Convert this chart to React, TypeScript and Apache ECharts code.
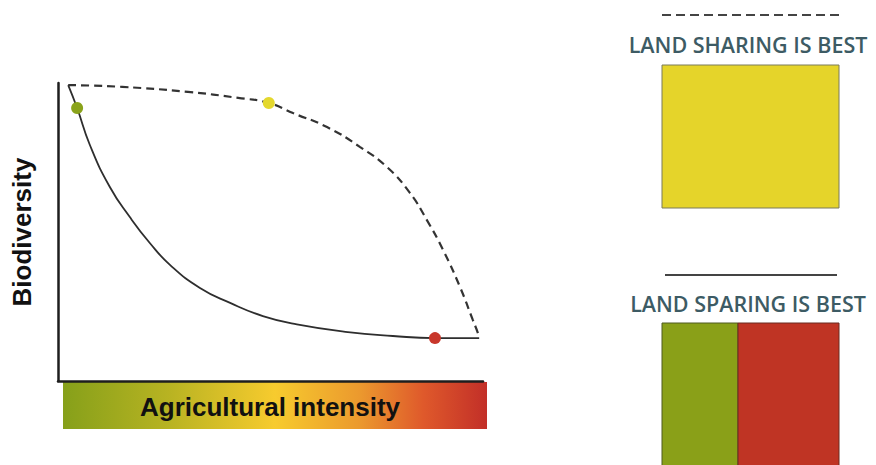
import React, { useEffect, useRef } from "react";
import * as echarts from "echarts";

// Curves (x: agricultural intensity 0-100, y: biodiversity 0-100)
const sharingX = [2.4, 15.1, 30.6, 42.4, 49.6, 55.3, 63.3, 71.1, 77.4, 82.8, 86.8, 90.6, 94.6, 97.6, 98.8, 99.1];
const sharingY = [99.3, 98.7, 97.0, 95.0, 93.3, 89.9, 85.2, 78.5, 71.8, 63.1, 54.0, 44.0, 31.5, 20.5, 16.1, 14.4];

const sparingX = [2.4, 4.5, 7.5, 12.2, 16.9, 21.6, 26.4, 33.4, 40.5, 48.2, 56.2, 68.2, 78.8, 88.7, 99.1];
const sparingY = [99.3, 91.6, 79.2, 65.1, 55.0, 46.3, 38.9, 31.2, 26.2, 21.8, 19.0, 16.4, 15.1, 14.4, 14.4];

const pointNames = ["low intensity", "sharing", "high intensity"];
const pointX = [4.5, 49.6, 88.7];
const pointY = [91.6, 93.3, 14.4];
const pointColors = ["#8aa31b", "#e4d82e", "#c8372b"];

const xTitle = "Agricultural intensity";
const yTitle = "Biodiversity";
const legendTitles = ["LAND SHARING IS BEST", "LAND SPARING IS BEST"];

export default function App() {
  const ref = useRef<HTMLDivElement>(null);

  useEffect(() => {
    document.body.style.margin = "0";
    if (!ref.current) return;
    const chart = echarts.init(ref.current, undefined, { renderer: "svg" });
    const textColor = "#3d5b64";
    const option: any = {
      animation: false,
      backgroundColor: "#ffffff",
      grid: { left: 58, top: 83, width: 425, height: 298, containLabel: false },
      xAxis: {
        type: "value",
        min: 0,
        max: 100,
        axisLine: { show: true, lineStyle: { color: "#1e1e1e", width: 2.5 } },
        axisTick: { show: false },
        axisLabel: { show: false },
        splitLine: { show: false },
      },
      yAxis: {
        type: "value",
        min: 0,
        max: 100,
        axisLine: { show: true, lineStyle: { color: "#1e1e1e", width: 2.5 } },
        axisTick: { show: false },
        axisLabel: { show: false },
        splitLine: { show: false },
      },
      series: [
        {
          type: "line",
          name: "sharing",
          data: sharingX.map((x, i) => [x, sharingY[i]]),
          smooth: 0.5,
          symbol: "none",
          lineStyle: { color: "#333333", width: 2.2, type: [8, 5] },
        },
        {
          type: "line",
          name: "sparing",
          data: sparingX.map((x, i) => [x, sparingY[i]]),
          smooth: 0.5,
          symbol: "none",
          lineStyle: { color: "#2e2e2e", width: 1.8 },
        },
        {
          type: "scatter",
          data: pointX.map((x, i) => ({
            name: pointNames[i],
            value: [x, pointY[i]],
            itemStyle: { color: pointColors[i], opacity: 1 },
          })),
          symbolSize: 12,
          z: 5,
        },
      ],
      graphic: [
        {
          type: "rect",
          shape: { x: 63, y: 382, width: 424, height: 47 },
          style: {
            fill: new echarts.graphic.LinearGradient(0, 0, 1, 0, [
              { offset: 0, color: "#86a01a" },
              { offset: 0.25, color: "#b8b322" },
              { offset: 0.5, color: "#f7cb2e" },
              { offset: 0.7, color: "#eb992e" },
              { offset: 0.85, color: "#df592b" },
              { offset: 1, color: "#c22f28" },
            ]),
          },
          z: 0,
        },
        {
          type: "text",
          x: 270,
          y: 407,
          style: {
            text: xTitle,
            font: "bold 26px 'Liberation Sans', Arial, sans-serif",
            fill: "#111111",
            align: "center",
            verticalAlign: "middle",
          },
          z: 2,
        },
        {
          type: "text",
          x: 22,
          y: 232,
          rotation: Math.PI / 2,
          style: {
            text: yTitle,
            font: "bold 26px 'Liberation Sans', Arial, sans-serif",
            fill: "#111111",
            align: "center",
            verticalAlign: "middle",
          },
        },
        // legend: sharing
        {
          type: "line",
          shape: { x1: 662, y1: 15, x2: 840, y2: 15 },
          style: { stroke: "#444444", lineWidth: 2, lineDash: [9, 5] },
        },
        {
          type: "text",
          x: 748,
          y: 44,
          style: {
            text: legendTitles[0],
            font: "600 21.5px 'Open Sans', 'Noto Sans', sans-serif",
            fill: textColor,
            align: "center",
            verticalAlign: "middle",
          },
        },
        {
          type: "rect",
          shape: { x: 662, y: 65, width: 177, height: 143 },
          style: { fill: "#e5d42a", stroke: "#7a7a5a", lineWidth: 1 },
        },
        // legend: sparing
        {
          type: "line",
          shape: { x1: 665, y1: 275, x2: 837, y2: 275 },
          style: { stroke: "#444444", lineWidth: 2 },
        },
        {
          type: "text",
          x: 748,
          y: 303,
          style: {
            text: legendTitles[1],
            font: "600 21.5px 'Open Sans', 'Noto Sans', sans-serif",
            fill: textColor,
            align: "center",
            verticalAlign: "middle",
          },
        },
        {
          type: "rect",
          shape: { x: 662, y: 323, width: 76, height: 150 },
          style: { fill: "#8aa018", stroke: "#4f5a20", lineWidth: 1 },
        },
        {
          type: "rect",
          shape: { x: 738, y: 323, width: 101, height: 150 },
          style: { fill: "#bf3424", stroke: "#6a2a20", lineWidth: 1 },
        },
      ],
    };
    chart.setOption(option);
    return () => chart.dispose();
  }, []);

  return <div ref={ref} style={{ width: 876, height: 465 }} />;
}
